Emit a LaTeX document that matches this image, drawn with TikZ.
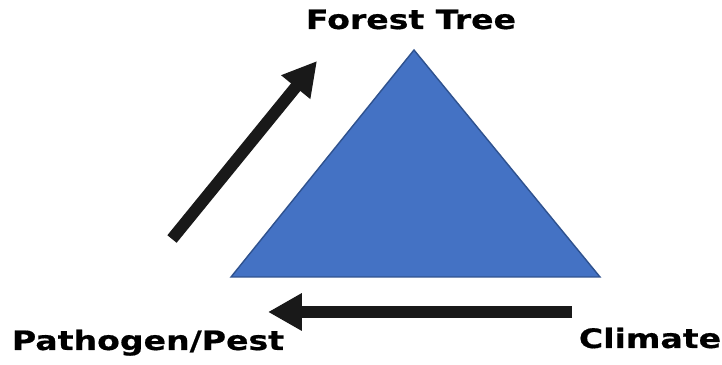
\documentclass[tikz,border=0pt]{standalone}
\usepackage{fontspec}
\setmainfont{DejaVu Sans}
\newfontfamily\labelfont[FakeStretch=1.24, FakeBold=0.6]{DejaVu Sans}
\usetikzlibrary{arrows.meta}
\definecolor{triblue}{HTML}{4472C4}
\definecolor{triedge}{HTML}{2F528F}
\begin{document}
\begin{tikzpicture}[x=0.025cm, y=-0.025cm]
    \tikzstyle{label}=[font=\labelfont\bfseries\fontsize{19}{22}\selectfont, inner sep=0pt, anchor=base]
    \tikzstyle{bigarrow}=[line width=8.5pt, color=black!90, -{Triangle[length=24pt, width=25pt]}]
    \useasboundingbox (0,0) rectangle (722,365);
    % triangle
    \coordinate (top) at (414,50);
    \coordinate (left) at (231,277);
    \coordinate (right) at (600,277);
    \filldraw[fill=triblue, draw=triedge, line width=1pt] (top) -- (right) -- (left) -- cycle;
    % labels
    \node[label] (tree) at (411,29) {Forest Tree};
    \node[label] (pest) at (148,350) {Pathogen/Pest};
    \node[label] (climate) at (650,348) {Climate};
    % arrows
    \coordinate (upstart) at (172,239);
    \coordinate (upend) at (317,61);
    \coordinate (leftstart) at (572,312);
    \coordinate (leftend) at (268,312);
    \draw[bigarrow] (upstart) -- (upend);
    \draw[bigarrow] (leftstart) -- (leftend);
  \end{tikzpicture}
\end{document}
